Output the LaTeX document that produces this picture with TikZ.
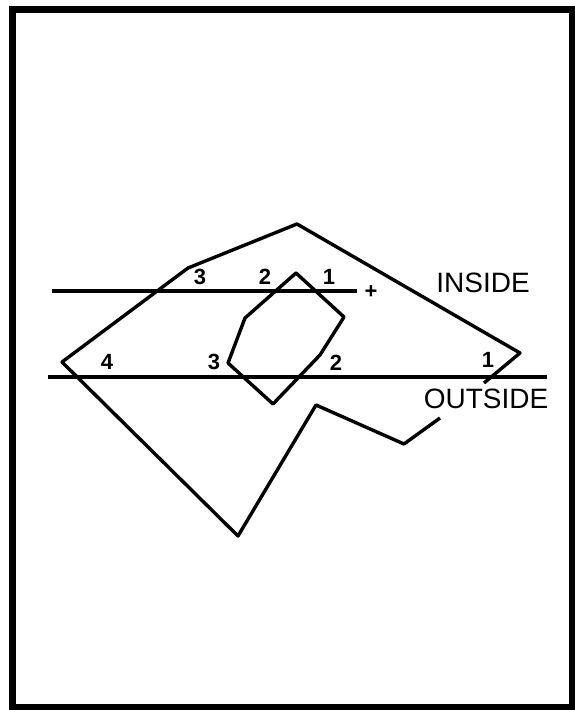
\documentclass[tikz,border=0pt]{standalone}
\usepackage{fontspec}
\setmainfont{Liberation Sans}
\usetikzlibrary{positioning}
\tikzset{
    % Polygon outlines
    outline/.style={
        draw=black,
        line width=3.4pt,
        line join=round
    },
    % Horizontal scan lines
    scanline/.style={
        draw=black,
        line width=3.6pt
    },
    frame/.style={
        draw=black,
        line width=7pt
    },
    count/.style={
        font=\fontsize{22}{22}\selectfont\bfseries,
        inner sep=0pt
    },
    side label/.style={
        font=\fontsize{28}{28}\selectfont,
        inner sep=0pt
    }
}
\begin{document}
\begin{tikzpicture}[x=1pt, y=-1pt]
        \useasboundingbox (0,0) rectangle (575,710);
        \draw[frame] (12.5,9.5) rectangle (572,707.5);

        % Outer polygon
        \coordinate (o1) at (440,418);
        \coordinate (o2) at (404,444);
        \coordinate (o3) at (316,405);
        \coordinate (o4) at (238,536);
        \coordinate (o5) at (62,362);
        \coordinate (o6) at (188,268);
        \coordinate (o7) at (297,224);
        \coordinate (o8) at (520,353);
        \coordinate (o9) at (484,383);
        \draw[outline] (o1) -- (o2) -- (o3) -- (o4) -- (o5) -- (o6) -- (o7) -- (o8) -- (o9);

        % Inner polygon
        \coordinate (i1) at (296,273);
        \coordinate (i2) at (344,317);
        \coordinate (i3) at (320,355);
        \coordinate (i4) at (273,404);
        \coordinate (i5) at (228,363);
        \coordinate (i6) at (245,318);
        \draw[outline] (i1) -- (i2) -- (i3) -- (i4) -- (i5) -- (i6) -- cycle;

        % Scan lines
        \coordinate (a1) at (52,291);
        \coordinate (a2) at (357,291);
        \coordinate (b1) at (48,377);
        \coordinate (b2) at (547,377);
        \draw[scanline] (a1) -- (a2);
        \draw[scanline] (b1) -- (b2);

        % Crossing counts
        \node[count] (up3) at (200,277) {3};
        \node[count] (up2) at (265,277) {2};
        \node[count] (up1) at (329,277) {1};
        \node[count] (plus) at (371,292) {+};
        \node[count] (lo4) at (107,362) {4};
        \node[count] (lo3) at (214,362) {3};
        \node[count] (lo2) at (336,363) {2};
        \node[count] (lo1) at (488,360) {1};

        % Labels
        \node[side label] (inside) at (483,283) {INSIDE};
        \node[side label] (outside) at (486,399) {OUTSIDE};
    \end{tikzpicture}
\end{document}
